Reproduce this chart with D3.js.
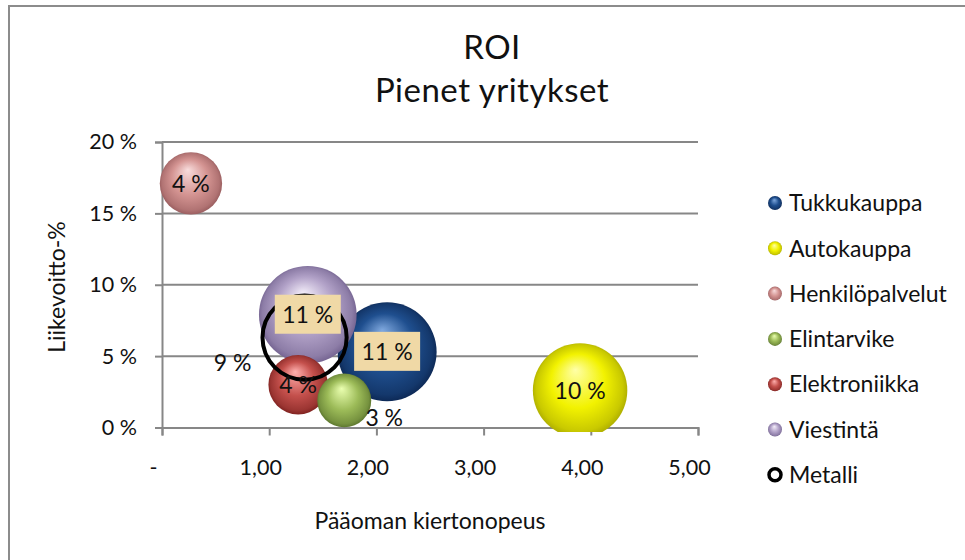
<!DOCTYPE html>
<html><head><meta charset="utf-8">
<script src="https://cdn.jsdelivr.net/npm/d3@7"></script>
<style>
html,body{margin:0;padding:0;background:#fff;}
text{font-family:Lato,"Open Sans",sans-serif;fill:#111;}
</style></head>
<body><svg id="chart" width="965" height="560"></svg>
<script>
// ---- data ----
const series = ["Tukkukauppa","Autokauppa","Henkilöpalvelut","Elintarvike","Elektroniikka","Viestintä","Metalli"];
const turnover = [2.10, 3.90, 0.27, 1.70, 1.27, 1.36, 1.33];      // Pääoman kiertonopeus
const margin   = [5.3, 2.6, 17.1, 1.9, 3.0, 7.9, 6.3];            // Liikevoitto-%
const roi      = [11.1, 10.1, 4.4, 3.3, 4.0, 10.8, 8.8];          // bubble size / label (ROI %)
const xTicks = [0, 1, 2, 3, 4, 5];
const yTicks = [0, 5, 10, 15, 20];
const titleLines = ["ROI", "Pienet yritykset"];
const xTitle = "Pääoman kiertonopeus";
const yTitle = "Liikevoitto-%";

// ---- styles ----
const colors = {
  "Tukkukauppa":    {hi:"#7fa8de", base:"#1f4f8f", rim:"#0b2550"},
  "Autokauppa":     {hi:"#ffffa8", base:"#f2f200", rim:"#a8a800"},
  "Henkilöpalvelut":{hi:"#f8dcdc", base:"#d49492", rim:"#94585a"},
  "Elintarvike":    {hi:"#eaffb0", base:"#9cbb58", rim:"#56702a"},
  "Elektroniikka":  {hi:"#ffb0ae", base:"#c4504c", rim:"#7a1e1c"},
  "Viestintä":      {hi:"#f4eefa", base:"#b2a2c8", rim:"#6f5e8c"},
  "Metalli":        null
};
const labelMode = {"Tukkukauppa":"box","Autokauppa":"center","Henkilöpalvelut":"center",
  "Elintarvike":"belowright","Elektroniikka":"center","Viestintä":"box","Metalli":"leftbelow"};
const drawOrder = ["Tukkukauppa","Viestintä","Autokauppa","Henkilöpalvelut","Elektroniikka","Elintarvike","Metalli"];

const svg = d3.select("#chart");
const grid = "#878787";

// frame
svg.append("rect").attr("x",9).attr("y",6).attr("width",1000).attr("height",1000)
  .attr("fill","#fff").attr("stroke","#8c8c8c").attr("stroke-width",2);

const x = d3.scaleLinear().domain([0,5]).range([162,698]);
const y = d3.scaleLinear().domain([0,20]).range([427.5,142]);
const r = d3.scaleSqrt().domain([0, d3.max(roi)]).range([0, 49.5]);

// defs: gradients
const defs = svg.append("defs");
series.forEach((s,i)=>{
  const c = colors[s]; if(!c) return;
  const g = defs.append("radialGradient").attr("id","g"+i)
    .attr("cx","50%").attr("cy","50%").attr("r","52%").attr("fx","45%").attr("fy","28%");
  g.append("stop").attr("offset","0%").attr("stop-color",c.hi);
  g.append("stop").attr("offset","55%").attr("stop-color",c.base);
  g.append("stop").attr("offset","88%").attr("stop-color",d3.interpolateRgb(c.base,c.rim)(0.55));
  g.append("stop").attr("offset","100%").attr("stop-color",c.rim);
});
defs.append("clipPath").attr("id","plotclip").append("rect")
  .attr("x",150).attr("y",120).attr("width",560).attr("height",312);

// title
svg.append("text").attr("x",492).attr("y",59).attr("text-anchor","middle")
  .style("font-size","33px").style("letter-spacing","0.5px").text(titleLines[0]);
svg.append("text").attr("x",492).attr("y",102).attr("text-anchor","middle")
  .style("font-size","33px").style("letter-spacing","0.5px").text(titleLines[1]);

// gridlines
svg.append("g").selectAll("line").data(yTicks.filter(d=>d>0)).join("line")
  .attr("x1",x(0)).attr("x2",x(5)).attr("y1",d=>y(d)).attr("y2",d=>y(d))
  .attr("stroke",grid).attr("stroke-width",2);

// axes
const yAxis = d3.axisLeft(y).tickValues(yTicks).tickSize(7).tickPadding(18)
  .tickFormat(d=>d+" %");
const gy = svg.append("g").attr("transform",`translate(${x(0)},0)`).call(yAxis);
gy.select(".domain").attr("stroke",grid).attr("stroke-width",2);
gy.selectAll(".tick line").attr("stroke",grid).attr("stroke-width",2);
gy.selectAll(".tick text").style("font-size","21.5px").style("font-family","Lato").attr("fill","#111");

const xAxis = d3.axisBottom(x).tickValues(xTicks).tickSize(8).tickPadding(24)
  .tickFormat(d=> d===0 ? "-" : d3.format(".2f")(d).replace(".",","));
const gx = svg.append("g").attr("transform",`translate(0,${y(0)})`).call(xAxis);
gx.select(".domain").attr("stroke",grid).attr("stroke-width",2);
gx.selectAll(".tick line").attr("stroke",grid).attr("stroke-width",2);
gx.selectAll(".tick text").style("font-size","21.5px").style("font-family","Lato").attr("fill","#111")
  .attr("dx",-9);

// axis titles
svg.append("text").attr("x",430).attr("y",529).attr("text-anchor","middle")
  .style("font-size","23px").text(xTitle);
svg.append("text").attr("transform","translate(65,287) rotate(-90)").attr("text-anchor","middle")
  .style("font-size","23px").text(yTitle);

// bubbles
const pts = series.map((s,i)=>({s,i,cx:x(turnover[i]),cy:y(margin[i]),rr:r(roi[i]),roi:roi[i]}));
const byName = Object.fromEntries(pts.map(p=>[p.s,p]));
const gb = svg.append("g").attr("clip-path","url(#plotclip)");
drawOrder.map(n=>byName[n]).forEach(p=>{
  if(colors[p.s]){
    gb.append("circle").attr("cx",p.cx).attr("cy",p.cy).attr("r",p.rr)
      .attr("fill",`url(#g${p.i})`);
  } else {
    gb.append("circle").attr("cx",p.cx).attr("cy",p.cy).attr("r",p.rr-2)
      .attr("fill","none").attr("stroke","#000").attr("stroke-width",4);
  }
});

// labels
const fmt = v => d3.format(".0f")(v)+" %";
const gl = svg.append("g");
pts.forEach(p=>{
  const mode = labelMode[p.s];
  let lx=p.cx, ly=p.cy, anchor="middle";
  if(mode==="leftbelow"){ lx=p.cx-p.rr-9; ly=p.cy+25; anchor="end"; }
  if(mode==="belowright"){ lx=p.cx+p.rr+13; ly=p.cy+17; }
  if(mode==="box"){
    gl.append("rect").attr("x",lx-33).attr("y",ly-20).attr("width",66).attr("height",39)
      .attr("fill","#f0d9a6");
  }
  gl.append("text").attr("x",lx).attr("y",ly).attr("dy","0.36em").attr("text-anchor",anchor)
    .style("font-size","23px").text(fmt(p.roi));
});

// legend
const lg = svg.append("g");
series.forEach((s,i)=>{
  const ly = 203 + i*45.3;
  if(colors[s]){
    lg.append("circle").attr("cx",775).attr("cy",ly).attr("r",7).attr("fill",`url(#g${i})`);
  } else {
    lg.append("circle").attr("cx",775).attr("cy",ly).attr("r",6).attr("fill","none")
      .attr("stroke","#000").attr("stroke-width",3.5);
  }
  lg.append("text").attr("x",789).attr("y",ly).attr("dy","0.36em").style("font-size","23px").text(s);
});
</script></body></html>
